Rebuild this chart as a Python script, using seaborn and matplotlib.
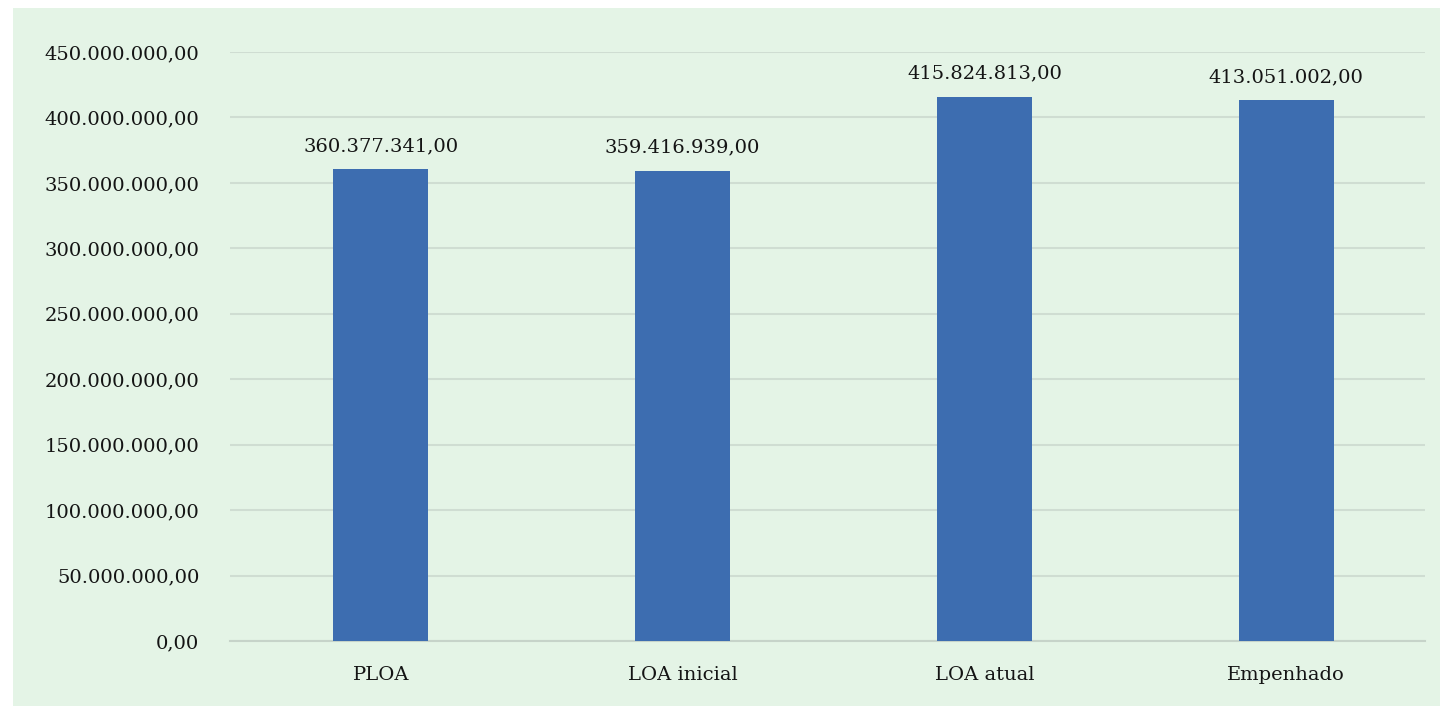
import matplotlib
matplotlib.use("Agg")
import matplotlib.pyplot as plt
import matplotlib.ticker as mticker
from matplotlib.patches import Rectangle
import seaborn as sns
import pandas as pd

# Data
categories = ["PLOA", "LOA inicial", "LOA atual", "Empenhado"]
values = [360377341.00, 359416939.00, 415824813.00, 413051002.00]
y_ticks = [0, 50e6, 100e6, 150e6, 200e6, 250e6, 300e6, 350e6, 400e6, 450e6]

BG = "#E4F4E6"
BAR = "#3D6DB0"
GRID = "#CFDDD2"
TEXT = "#141414"
FONT = "DejaVu Serif"


def fmt_br(v, pos=None):
    s = f"{v:,.2f}"
    return s.replace(",", "X").replace(".", ",").replace("X", ".")


def generate_plot():
    sns.set_theme(style="white")
    plt.rcParams["font.family"] = [FONT, "DejaVu Sans"]

    df = pd.DataFrame({"cat": categories, "val": values})

    fig = plt.figure(figsize=(14.46, 7.08), dpi=100)
    fig.patch.set_facecolor("white")
    # light green panel behind the chart
    fig.patches.append(Rectangle((13 / 1446, 2 / 708), 1427 / 1446, 698 / 708,
                                 transform=fig.transFigure, facecolor=BG,
                                 edgecolor="none", zorder=-10))
    ax = fig.add_axes([230 / 1446, 1 - 641 / 708, 1195 / 1446, (641 - 52) / 708])
    ax.set_zorder(5)
    ax.set_facecolor("none")

    sns.barplot(data=df, x="cat", y="val", color=BAR, width=0.315,
                saturation=1, linewidth=0, ax=ax, zorder=3)

    ax.set_ylim(0, 450e6)
    ax.set_xlim(-0.5, 3.46)
    ax.set_yticks(y_ticks)
    ax.yaxis.set_major_formatter(mticker.FuncFormatter(fmt_br))
    ax.grid(axis="y", color=GRID, linewidth=1.5, zorder=0)
    ax.set_axisbelow(True)
    for side in ["top", "right", "left"]:
        ax.spines[side].set_visible(False)
    ax.spines["bottom"].set_color("#C6D3C9")
    ax.spines["bottom"].set_linewidth(1.5)

    ax.set_xlabel("")
    ax.set_ylabel("")
    ax.tick_params(axis="y", length=0, pad=22, labelsize=14, labelcolor=TEXT)
    ax.tick_params(axis="x", length=0, pad=18, labelsize=14, labelcolor=TEXT)

    for i, v in enumerate(values):
        ax.annotate(fmt_br(v), (i, v), xytext=(0, 10), textcoords="offset points",
                    ha="center", va="bottom", fontsize=14, color=TEXT)

    fig.savefig("out.png", dpi=100, facecolor=fig.get_facecolor())
    plt.close(fig)


if __name__ == "__main__":
    generate_plot()
